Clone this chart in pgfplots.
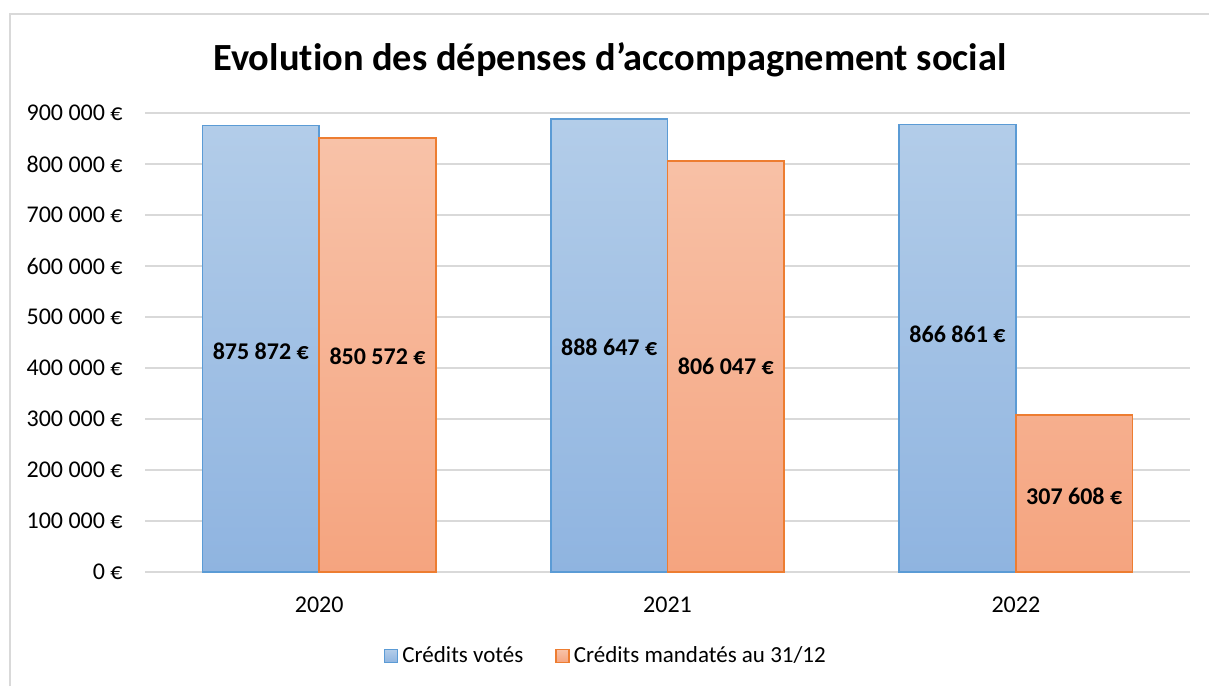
\documentclass[border=0pt]{standalone}
\usepackage{fontspec}
\setmainfont[Ligatures=NoCommon]{Carlito}
\usepackage{pgfplots}
\pgfplotsset{compat=1.18}
\usepackage{pgfplotstable}
\definecolor{gridc}{HTML}{D9D9D9}
\definecolor{bluetop}{HTML}{B3CDE9}
\definecolor{bluebot}{HTML}{8FB4E0}
\definecolor{blueedge}{HTML}{5B9BD5}
\definecolor{ortop}{HTML}{F8C2A8}
\definecolor{orbot}{HTML}{F5A47F}
\definecolor{oredge}{HTML}{ED7D31}

\pgfplotstableread[col sep=comma]{
x,v,ly,lab
0,875872,433300,875 872 €
1,888647,441200,888 647 €
2,877500,466700,866 861 €
}\votes
\pgfplotstableread[col sep=comma]{
x,v,ly,lab
0,850572,423500,850 572 €
1,806047,403900,806 047 €
2,307608,149000,307 608 €
}\mandates

\begin{document}
\begin{tikzpicture}[x=1pt,y=1pt]
\useasboundingbox (0,0) rectangle (604.5,343);
\draw[gridc, line width=0.75pt] (5,0) -- (5,336) -- (604.5,336);
\begin{axis}[
  at={(72.5pt,57pt)}, anchor=south west,
  scale only axis, width=522.5pt, height=229.5pt,
  xmin=-0.5, xmax=2.5, ymin=0, ymax=900000,
  scaled y ticks=false,
  xtick={0,1,2}, xticklabels={2020,2021,2022},
  ytick={0,100000,200000,300000,400000,500000,600000,700000,800000,900000},
  yticklabels={0 €,100 000 €,200 000 €,300 000 €,400 000 €,500 000 €,600 000 €,700 000 €,800 000 €,900 000 €},
  ymajorgrids, grid style={gridc, line width=0.75pt},
  axis line style={draw=none},
  major tick length=0pt,
  tick label style={font=\fontsize{12}{14}\selectfont, text=black},
  yticklabel style={anchor=east, inner sep=0pt, xshift=-11pt},
  xticklabel style={anchor=north, inner sep=0pt, yshift=-12.5pt},
  title={Evolution des dépenses d’accompagnement social},
  title style={at={(0.445,1.066)}, anchor=base, font=\fontsize{19.2}{23}\selectfont\bfseries, inner sep=0pt},
  legend image code/.code={\draw[#1, line width=0.75pt] (0pt,-3.25pt) rectangle (6.5pt,3.25pt);},
  legend style={at={(0.442,-0.183)}, anchor=center, draw=none, fill=none, legend columns=-1,
    font=\fontsize{11.5}{14}\selectfont, inner sep=0pt,
    /tikz/every even column/.append style={column sep=14pt}},
  clip=false,
]
\addplot[ybar, bar width=0.335, bar shift=-0.1675, draw=blueedge, line width=0.75pt,
  top color=bluetop, bottom color=bluebot] table[x=x, y=v]{\votes};
\addlegendentry{Crédits votés}
\addplot[ybar, bar width=0.335, bar shift=0.1675, draw=oredge, line width=0.75pt,
  top color=ortop, bottom color=orbot] table[x=x, y=v]{\mandates};
\addlegendentry{Crédits mandatés au 31/12}
\addplot[forget plot, draw=none, mark=none, nodes near coords, point meta=explicit symbolic,
  nodes near coords style={anchor=center, inner sep=0pt, font=\fontsize{12}{14}\selectfont\bfseries, text=black}]
  table[x expr=\thisrow{x}-0.1675, y=ly, meta=lab]{\votes};
\addplot[forget plot, draw=none, mark=none, nodes near coords, point meta=explicit symbolic,
  nodes near coords style={anchor=center, inner sep=0pt, font=\fontsize{12}{14}\selectfont\bfseries, text=black}]
  table[x expr=\thisrow{x}+0.1675, y=ly, meta=lab]{\mandates};
\end{axis}
\end{tikzpicture}
\end{document}
